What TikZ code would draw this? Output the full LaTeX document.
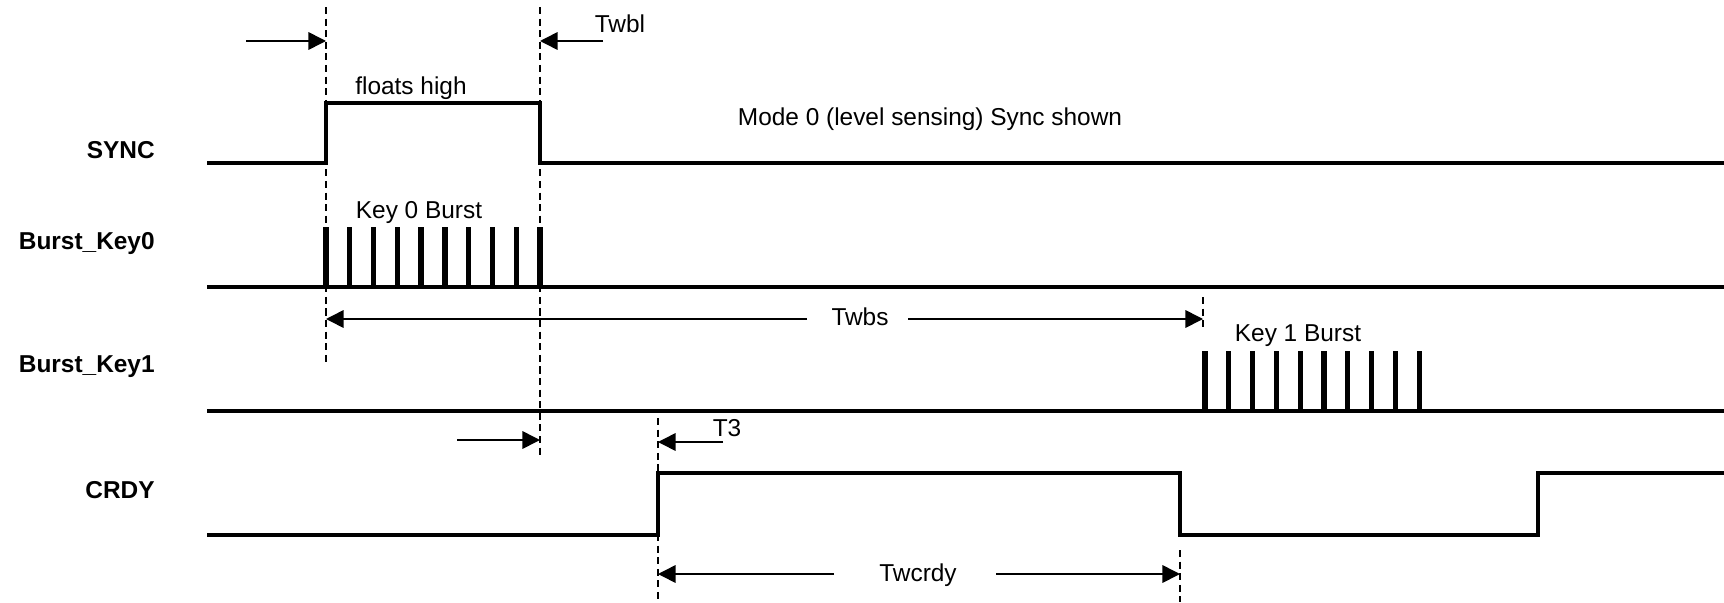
\documentclass[tikz,border=0pt]{standalone}
\usepackage{fontspec}
\setmainfont{Liberation Sans}
\usetikzlibrary{arrows.meta,positioning}

\begin{document}
\begin{tikzpicture}[x=0.02cm,y=-0.02cm,
    sig/.style={line width=2.2pt},
    pulse/.style={line width=3pt},
    guide/.style={line width=0.9pt,dash pattern=on 4pt off 2.6pt},
    dim/.style={line width=0.9pt,-{Triangle[length=10pt,width=10pt]}},
    lbl/.style={font=\fontsize{13.9}{16}\selectfont\bfseries,anchor=east,inner sep=0pt},
    txt/.style={font=\fontsize{13.9}{16}\selectfont,inner sep=0pt}]
    \useasboundingbox (0,0) rectangle (1724,602);

    % signal names
    \node[lbl] (sync) at (155,150) {SYNC};
    \node[lbl] (key0) at (155,244) {Burst\_Key0};
    \node[lbl] (key1) at (155,367) {Burst\_Key1};
    \node[lbl] (crdy) at (155,490) {CRDY};

    % waveforms
    \draw[sig] (207,163) -- (326,163) -- (326,103) -- (540,103) -- (540,163) -- (1724,163);
    \draw[sig] (207,287) -- (1724,287);
    \draw[sig] (207,411) -- (1724,411);
    \draw[sig] (207,535) -- (658,535) -- (658,473) -- (1180,473) -- (1180,535)
        -- (1538,535) -- (1538,473) -- (1724,473);
    \foreach \i in {0,...,9} {
        \draw[pulse] ({326+23.78*\i},287) -- ({326+23.78*\i},227);
        \draw[pulse] ({1205+23.8*\i},411) -- ({1205+23.8*\i},351);
    }

    % timing guides
    \draw[guide] (326,7) -- (326,362);
    \draw[guide] (540,7) -- (540,457);
    \draw[guide] (1203,297) -- (1203,330);
    \draw[guide] (658,418) -- (658,602);
    \draw[guide] (1180,550) -- (1180,602);

    % texts
    \node[txt] (float) at (411,88) {floats high};
    \node[txt] (mode) at (930,119) {Mode 0 (level sensing) Sync shown};
    \node[txt] (burst0) at (419,213) {Key 0 Burst};
    \node[txt] (burst1) at (1298,336) {Key 1 Burst};
    \node[txt] (twbl) at (620,24) {Twbl};
    \node[txt] (t3) at (727,428) {T3};
    \node[txt] (twbs) at (860,317) {Twbs};
    \node[txt] (twcrdy) at (918,575) {Twcrdy};

    % arrows
    \coordinate (s0) at (246,41);  \coordinate (s1) at (326,41);
    \coordinate (w0) at (603,41);  \coordinate (w1) at (540,41);
    \coordinate (b0) at (807,319); \coordinate (b1) at (326,319);
    \coordinate (b2) at (908,319); \coordinate (b3) at (1203,319);
    \coordinate (f0) at (457,440); \coordinate (f1) at (540,440);
    \coordinate (r0) at (723,442); \coordinate (r1) at (658,442);
    \coordinate (c0) at (834,574); \coordinate (c1) at (658,574);
    \coordinate (c2) at (996,574); \coordinate (c3) at (1180,574);
    \draw[dim] (s0) -- (s1);
    \draw[dim] (w0) -- (w1);
    \draw[dim] (b0) -- (b1);
    \draw[dim] (b2) -- (b3);
    \draw[dim] (f0) -- (f1);
    \draw[dim] (r0) -- (r1);
    \draw[dim] (c0) -- (c1);
    \draw[dim] (c2) -- (c3);
\end{tikzpicture}
\end{document}
